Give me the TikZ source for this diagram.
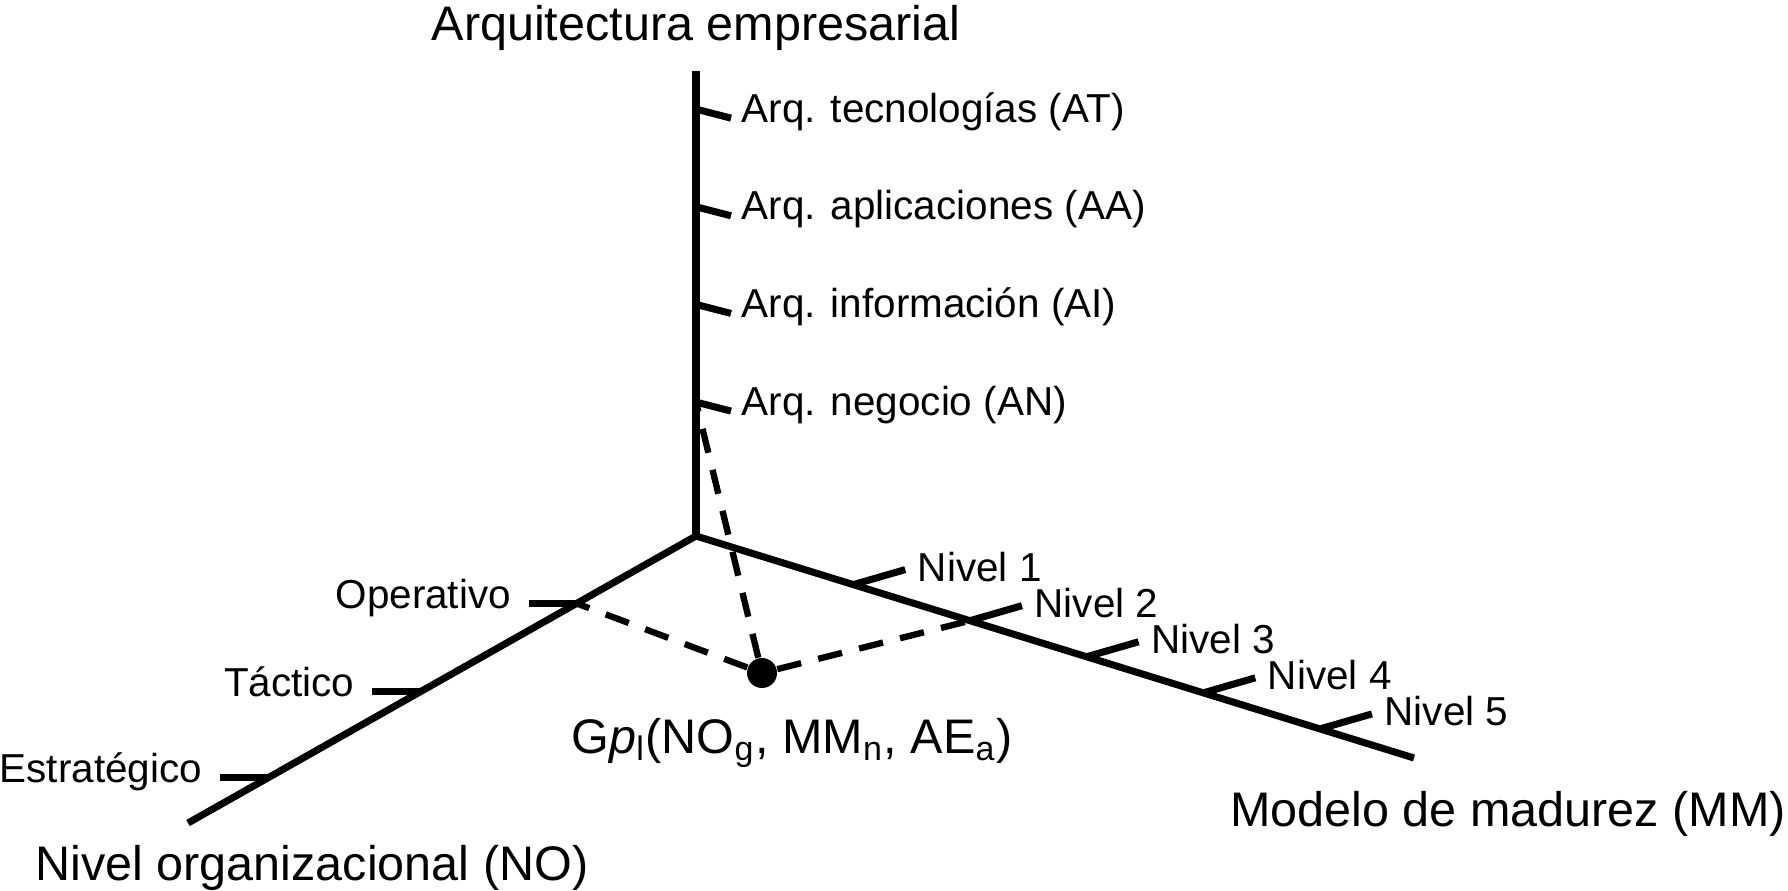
\documentclass[tikz,border=0pt]{standalone}
\usepackage{fontspec}
\setmainfont{Liberation Sans}
\usepackage{tikz}
\usetikzlibrary{calc}

\begin{document}
\begin{tikzpicture}[x=0.01cm, y=-0.01cm,
		eje/.style={line width=2pt},
		marca/.style={line width=2pt},
		guia/.style={line width=1.8pt, dash pattern=on 7pt off 5pt},
		grande/.style={font=\fontsize{13.8}{16}\selectfont, inner sep=0pt},
		chico/.style={font=\fontsize{11.5}{13}\selectfont, inner sep=0pt}]
			\useasboundingbox (0,0) rectangle (1788,891);

			\coordinate (O) at (696,536);
			\coordinate (zT) at (696,71);
			\coordinate (noE) at (188,823);
			\coordinate (mmE) at (1414,758);

			\begin{scope}[eje]
				\draw (zT) -- (O);
				\draw (O) -- (noE);
				\draw (O) -- (mmE);
			\end{scope}

			\begin{scope}
				\foreach \t/\txt [count=\i] in {0.288/{Arq. negocio (AN)}, 0.498/{Arq. información (AI)}, 0.708/{Arq. aplicaciones (AA)}, 0.918/{Arq. tecnologías (AT)}}
				{
					\coordinate (ae\i) at ($(O)!\t!(zT)$);
					\draw[marca] (ae\i) -- ++(35,9) coordinate (aeT\i);
					\node[chico, anchor=base west] (aeL\i) at ($(aeT\i)+(10,4)$) {\txt};
				}
				\foreach \t/\txt [count=\i] in {0.235/Operativo, 0.543/Táctico, 0.843/Estratégico}
				{
					\coordinate (no\i) at ($(O)!\t!(noE)$);
					\draw[marca] (no\i) -- ++(-48,0) coordinate (noT\i);
					\node[chico, anchor=base east] (noL\i) at ($(noT\i)+(-17,5)$) {\txt};
				}
				\foreach \t [count=\i] in {0.219, 0.3815, 0.544, 0.7065, 0.869}
				{
					\coordinate (mm\i) at ($(O)!\t!(mmE)$);
					\draw[marca] (mm\i) -- ++(52,-15) coordinate (mmT\i);
					\node[chico, anchor=base west] (mmL\i) at ($(mmT\i)+(12,12)$) {Nivel \i};
				}
			\end{scope}

			\node[circle, fill, inner sep=0pt, minimum size=0.3cm] (P) at (762,673) {};
			\begin{scope}[guia]
				\draw (P) -- (no1);
				\draw (P) -- (mm2);
				\draw (P) -- (ae1);
			\end{scope}

			\node[grande, anchor=base] (titulo) at (696,41) {Arquitectura empresarial};
			\node[grande, anchor=base] (noLab) at (312,880) {Nivel organizacional (NO)};
			\node[grande, anchor=base] (mmLab) at (1508,826) {Modelo de madurez (MM)};
			\node[grande, anchor=base] (gp) at (792,753) {G\textit{p}\textsubscript{l}(NO\textsubscript{g}, MM\textsubscript{n}, AE\textsubscript{a})};
		\end{tikzpicture}
\end{document}
